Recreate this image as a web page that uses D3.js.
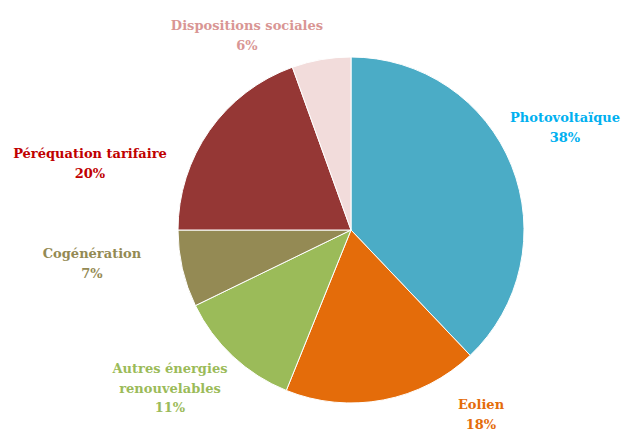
<!DOCTYPE html>
<html>
<head>
<meta charset="utf-8">
<script src="https://cdn.jsdelivr.net/npm/d3@7"></script>
<style>
  body { margin: 0; background: #fff; }
  text { font-family: "DejaVu Serif", "Liberation Serif", serif; font-weight: bold; font-size: 13px; }
</style>
</head>
<body>
<div id="chart"></div>
<script>
var categories = ["Photovoltaïque", "Eolien", "Autres énergies renouvelables", "Cogénération", "Péréquation tarifaire", "Dispositions sociales"];
var values = [37.9, 18.2, 11.7, 7.2, 19.5, 5.5];
var pctLabels = ["38%", "18%", "11%", "7%", "20%", "6%"];
var colors = ["#4BACC6", "#E46C0A", "#9BBB59", "#948A54", "#953735", "#F2DCDB"];
var labelColors = ["#00B0F0", "#E46C0A", "#9BBB59", "#948A54", "#C00000", "#D99694"];
// label lines (split of the category names)
var labelLines = [["Photovoltaïque"], ["Eolien"], ["Autres énergies", "renouvelables"], ["Cogénération"], ["Péréquation tarifaire"], ["Dispositions sociales"]];
var labelPos = [[565, 122], [481, 409], [170, 373], [92, 258], [90, 158], [247, 30]];

var width = 634, height = 445;
var cx = 351, cy = 230, r = 173;

var svg = d3.select("#chart").append("svg")
    .attr("width", width)
    .attr("height", height);

var pie = d3.pie().sort(null).value(function (d) { return d; });
var arc = d3.arc().innerRadius(0).outerRadius(r);

var g = svg.append("g").attr("transform", "translate(" + cx + "," + cy + ")");

g.selectAll("path")
    .data(pie(values))
    .enter().append("path")
    .attr("d", arc)
    .attr("fill", function (d, i) { return colors[i]; })
    .attr("stroke", "#fff")
    .attr("stroke-width", 1);

// labels
categories.forEach(function (c, i) {
    var t = svg.append("text")
        .attr("text-anchor", "middle")
        .attr("fill", labelColors[i])
        .attr("x", labelPos[i][0])
        .attr("y", labelPos[i][1]);
    var lines = labelLines[i].concat([pctLabels[i]]);
    lines.forEach(function (l, j) {
        t.append("tspan")
            .attr("x", labelPos[i][0])
            .attr("dy", j === 0 ? 0 : 19.5)
            .text(l);
    });
});
</script>
</body>
</html>
